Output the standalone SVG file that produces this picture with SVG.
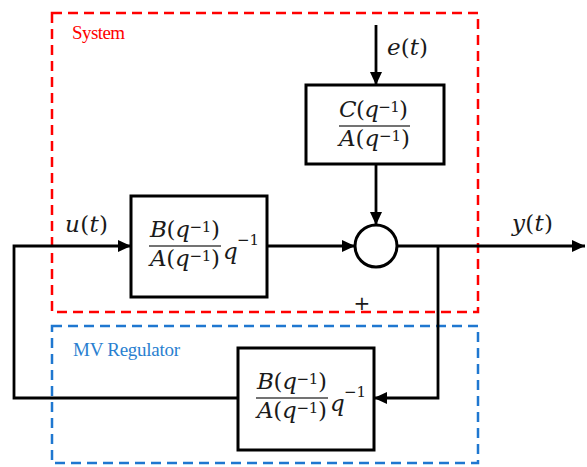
<svg xmlns="http://www.w3.org/2000/svg" width="587" height="467" viewBox="0 0 587 467">
<defs>
<style>
.box{fill:#fff;stroke:#000;stroke-width:3}
.ln{fill:none;stroke:#000;stroke-width:2.8}
.frac{stroke:#444;stroke-width:1.6}
.m{font-family:"DejaVu Serif","Liberation Serif",serif;font-size:23px;fill:#1a1a1a}
.i{font-style:italic}
.s{font-size:15px}
.lbl{font-family:"Liberation Serif","Times New Roman",serif;font-size:19px}
</style>
<marker id="ah" viewBox="0 0 13 12" refX="13" refY="6" markerWidth="13" markerHeight="12" markerUnits="userSpaceOnUse" orient="auto">
<path d="M0,0 L13,6 L0,12 Z" fill="#000"/>
</marker>
</defs>
<rect width="587" height="467" fill="#fff"/>

<g id="system-region">
<rect x="52" y="13" width="426" height="299" fill="none" stroke="#ff0000" stroke-width="2.5" stroke-dasharray="10 6"/>
<text class="lbl" x="72" y="39" fill="#ff0000" textLength="53">System</text>
</g>
<g id="mv-region">
<rect x="52" y="326" width="426" height="137" fill="none" stroke="#1f77d0" stroke-width="2.5" stroke-dasharray="10 6"/>
<text class="lbl" x="73" y="356" fill="#2a7fd0" textLength="107">MV Regulator</text>
</g>

<g id="connectors">
<line class="ln" x1="376" y1="25" x2="376" y2="85" marker-end="url(#ah)"/>
<line class="ln" x1="376" y1="164" x2="376" y2="225" marker-end="url(#ah)"/>
<line class="ln" x1="267" y1="246" x2="355" y2="246" marker-end="url(#ah)"/>
<line class="ln" x1="397" y1="246" x2="585" y2="246" marker-end="url(#ah)"/>
<polyline class="ln" points="438,246 438,398 374,398" marker-end="url(#ah)"/>
<polyline class="ln" points="238,398 14,398 14,246 131,246" marker-end="url(#ah)"/>
</g>

<g id="label-e" class="m"><text x="387" y="55" textLength="41"><tspan class="i">e</tspan>(<tspan class="i">t</tspan>)</text></g>
<g id="label-u" class="m"><text x="65" y="232" textLength="43"><tspan class="i">u</tspan>(<tspan class="i">t</tspan>)</text></g>
<g id="label-y" class="m"><text x="512" y="231" textLength="41"><tspan class="i">y</tspan>(<tspan class="i">t</tspan>)</text></g>
<g id="label-plus"><text x="362" y="310" text-anchor="middle" font-family="DejaVu Sans,sans-serif" font-size="20" fill="#1a1a1a">+</text></g>

<g id="noise-filter">
<rect class="box" x="306" y="85" width="138" height="79"/>
<g class="m">
<text x="339" y="117" textLength="69"><tspan class="i">C</tspan>(<tspan class="i">q</tspan><tspan class="s" dy="-5">−1</tspan><tspan dy="5">)</tspan></text>
<text x="339" y="146" textLength="71"><tspan class="i">A</tspan>(<tspan class="i">q</tspan><tspan class="s" dy="-5">−1</tspan><tspan dy="5">)</tspan></text>
</g>
<line class="frac" x1="339" y1="126" x2="410" y2="126"/>
</g>

<g id="sum">
<circle cx="376" cy="246" r="21" fill="#fff" stroke="#000" stroke-width="3"/>
</g>

<g id="plant">
<rect class="box" x="131" y="196" width="136" height="101"/>
<g class="m">
<text x="150" y="237" textLength="70"><tspan class="i">B</tspan>(<tspan class="i">q</tspan><tspan class="s" dy="-5">−1</tspan><tspan dy="5">)</tspan></text>
<text x="150" y="266" textLength="70"><tspan class="i">A</tspan>(<tspan class="i">q</tspan><tspan class="s" dy="-5">−1</tspan><tspan dy="5">)</tspan></text>
<text x="223" y="259" class="i">q</text>
<text x="237" y="245" class="s">−1</text>
</g>
<line class="frac" x1="149" y1="246" x2="221" y2="246"/>
</g>

<g id="regulator">
<rect class="box" x="238" y="348" width="136" height="102"/>
<g class="m">
<text x="257" y="389" textLength="70"><tspan class="i">B</tspan>(<tspan class="i">q</tspan><tspan class="s" dy="-5">−1</tspan><tspan dy="5">)</tspan></text>
<text x="257" y="418" textLength="70"><tspan class="i">A</tspan>(<tspan class="i">q</tspan><tspan class="s" dy="-5">−1</tspan><tspan dy="5">)</tspan></text>
<text x="330" y="411" class="i">q</text>
<text x="344" y="397" class="s">−1</text>
</g>
<line class="frac" x1="256" y1="398" x2="328" y2="398"/>
</g>
</svg>
